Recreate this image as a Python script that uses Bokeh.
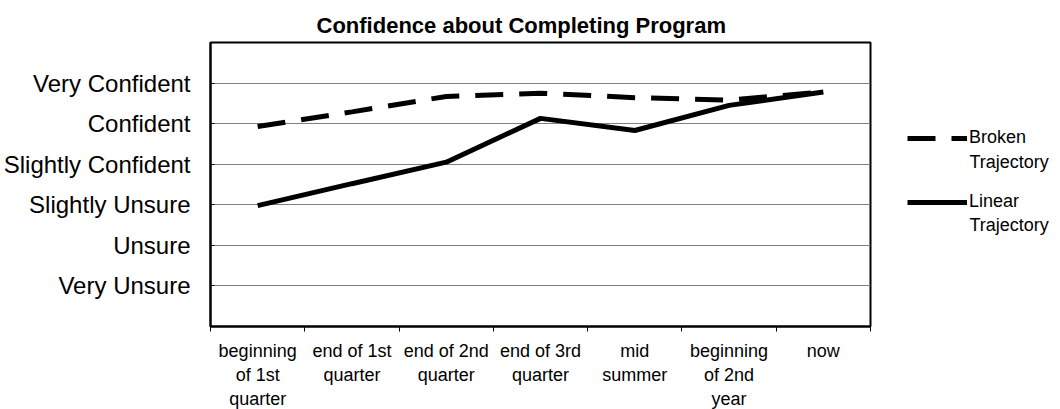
from bokeh.plotting import figure
from bokeh.layouts import row
from bokeh.models import FixedTicker, Legend, LegendItem, ColumnDataSource, Range1d, Label
from bokeh.embed import file_html
from bokeh.resources import INLINE

# ---- data ----
categories = ["beginning\nof 1st\nquarter", "end of 1st\nquarter", "end of 2nd\nquarter",
              "end of 3rd\nquarter", "mid\nsummer", "beginning\nof 2nd\nyear", "now"]
broken = [4.93, 5.29, 5.67, 5.75, 5.64, 5.58, 5.78]
linear = [2.98, 3.52, 4.05, 5.13, 4.83, 5.45, 5.78]
level_labels = ["Very Unsure", "Unsure", "Slightly Unsure", "Slightly Confident",
                "Confident", "Very Confident"]
level_values = [1, 2, 3, 4, 5, 6]
series_names = ["Broken", "Linear"]
series_suffix = "Trajectory"

FONT = "Liberation Sans"
H = 411

n = len(categories)
xs = [i + 0.5 for i in range(n)]
src = ColumnDataSource(dict(x=xs, broken=broken, linear=linear))

p = figure(width=874, height=H, x_range=Range1d(0, n), y_range=Range1d(0, 7),
           output_backend="svg", toolbar_location=None,
           min_border_left=206, min_border_right=4, min_border_top=42, min_border_bottom=60,
           title="Confidence about Completing Program")

p.background_fill_color = "white"
p.border_fill_color = "white"
p.outline_line_color = "black"
p.outline_line_width = 2

p.title.text_font = FONT
p.title.text_font_size = "22px"
p.title.text_font_style = "bold"
p.title.text_color = "black"
p.title.align = "left"
p.title.offset = 106
p.title.standoff = 10

# grid
p.xgrid.visible = False
p.ygrid.ticker = FixedTicker(ticks=level_values)
p.ygrid.grid_line_color = "#808080"
p.ygrid.grid_line_width = 1

# y axis
p.yaxis.ticker = FixedTicker(ticks=level_values)
p.yaxis.major_label_overrides = {v: l for v, l in zip(level_values, level_labels)}
p.yaxis.major_label_text_font = FONT
p.yaxis.major_label_text_font_size = "24px"
p.yaxis.major_label_text_color = "black"
p.yaxis.major_label_standoff = 20
p.yaxis.major_tick_in = 4
p.yaxis.major_tick_out = 0
p.yaxis.minor_tick_line_color = None
p.yaxis.axis_line_width = 2
p.yaxis.axis_line_color = "black"

# x axis
p.xaxis.ticker = FixedTicker(ticks=xs, minor_ticks=list(range(0, n + 1)))
p.xaxis.major_label_overrides = {x: c for x, c in zip(xs, categories)}
p.xaxis.major_label_text_font = FONT
p.xaxis.major_label_text_font_size = "18px"
p.xaxis.major_label_text_color = "black"
p.xaxis.major_label_standoff = 9
p.xaxis.major_tick_in = 0
p.xaxis.major_tick_out = 0
p.xaxis.minor_tick_in = 0
p.xaxis.minor_tick_out = 5
p.xaxis.minor_tick_line_color = "black"
p.xaxis.axis_line_width = 2
p.xaxis.axis_line_color = "black"

line_styles = [dict(line_dash="28 16"), dict(line_dash="solid")]
cols = ["broken", "linear"]
for col, st in zip(cols, line_styles):
    p.line("x", col, source=src, line_color="black", line_width=5, **st)

# ---- legend panel (separate canvas to the right; its frame aligns with p's frame) ----
lf = figure(width=176, height=H, x_range=Range1d(100, 101), y_range=Range1d(100, 101),
            output_backend="svg", toolbar_location=None, min_border=0)
lf.axis.visible = False
lf.grid.visible = False
lf.outline_line_color = None
lf.background_fill_color = "white"
lf.border_fill_color = "white"

items = []
for col, st, name in zip(cols, line_styles, series_names):
    r = lf.line("x", col, source=src, line_color="black", line_width=5, **st)
    items.append(LegendItem(label=name, renderers=[r]))

GX = 33
FB = 325  # approx. frame bottom in page pixels
legend = Legend(items=items, location=(GX, FB - 211))
legend.label_text_font = FONT
legend.label_text_font_size = "18px"
legend.label_text_color = "black"
legend.glyph_width = 60
legend.glyph_height = 20
legend.label_standoff = 2
legend.spacing = 43
legend.padding = 0
legend.margin = 0
legend.border_line_color = None
legend.background_fill_alpha = 0
lf.add_layout(legend)

for cy in [160, 223]:
    lf.add_layout(Label(x=GX + 62, y=FB - cy, x_units="screen", y_units="screen",
                        text=series_suffix, text_font=FONT, text_font_size="18px",
                        text_color="black", text_baseline="middle", text_align="left"))

open("out.html", "w").write(file_html(row(p, lf), INLINE))
